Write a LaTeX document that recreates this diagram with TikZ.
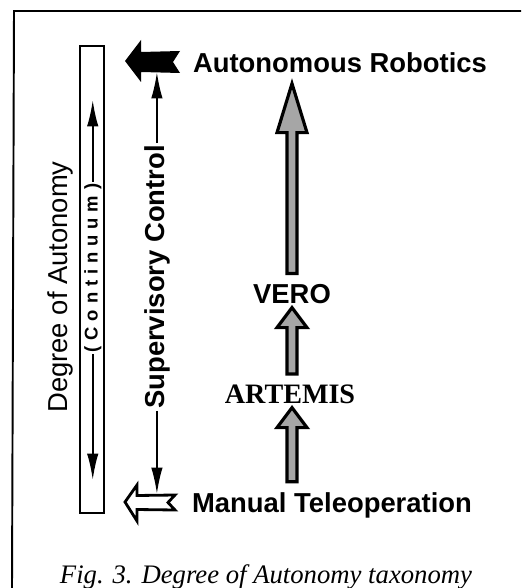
\documentclass[tikz,border=0pt]{standalone}
\usepackage{fontspec}
\setmainfont{Liberation Serif}
\setsansfont{Liberation Sans}
\usetikzlibrary{arrows.meta,calc}

\tikzset{
  tag/.style={font=\sffamily\bfseries\fontsize{15.6}{18}\selectfont, inner sep=1pt},
  stagename/.style={tag, inner sep=0pt},
  guide/.style={line width=1.1pt, -{Latex[length=15pt,width=6.5pt]}},
  stagefill/.style={draw, line width=1.8pt, fill=black!35, line join=miter}
}

% grey block arrow between two stages: lower node, upper node, head length, gap at the tip
\newcommand{\stagearrow}[4]{%
  \path[stagefill] ($(spine |- #1)+(-5,-10)$) -- ($(spine |- #2)+(-5,#3+#4)$)
    -- ($(spine |- #2)+(-15,#3+#4)$) -- ($(spine |- #2)+(0,#4)$)
    -- ($(spine |- #2)+(15,#3+#4)$) -- ($(spine |- #2)+(5,#3+#4)$)
    -- ($(spine |- #1)+(5,-10)$) -- cycle;}

\begin{document}
\begin{tikzpicture}[x=0.02cm, y=-0.02cm]
    \useasboundingbox (0,0) rectangle (521,588);

    % Frame (top and left edge only)
    \draw[line width=1.1pt] (521,11) -- (14,11) -- (12,588);

    % Continuum bar
    \draw[line width=1.2pt] (80,46) rectangle (104,513);
    \node[rotate=90, anchor=base, inner sep=1pt, font=\sffamily\bfseries\fontsize{10.5}{12}\selectfont\addfontfeature{LetterSpace=32}] (cont) at (97.5,268) {(Continuum)};
    \coordinate (contTop) at (92,100);
    \coordinate (contBot) at (92,480);
    \draw[guide] (cont.east) -- (cont.east |- contTop);
    \draw[guide] (cont.west) -- (cont.west |- contBot);
    \node[tag, font=\sffamily\fontsize{15.6}{18}\selectfont, rotate=90, anchor=base] (dgr) at (67,287) {Degree of Autonomy};

    % Ends of the scale
    \fill (125,61) -- (141,40) -- (141,52) -- (180,51) -- (173,62) -- (180,73) -- (141,72) -- (141,82) -- cycle;
    \draw[line width=1.6pt, fill=white, line join=miter] (125,502) -- (137,485) -- (137,495.5) -- (175,495) -- (168,502.5) -- (175,510) -- (137,509.5) -- (137,521) -- cycle;
    \coordinate (robArr) at (157,72);
    \coordinate (manArr) at (156,494);
    \node[stagename, anchor=base] (auto) at (340,72) {Autonomous Robotics};
    \node[stagename, anchor=base] (manual) at (332,512) {Manual Teleoperation};

    % Supervisory control spans the middle
    \node[tag, rotate=90, anchor=base] (sup) at (164,277) {Supervisory Control};
    \draw[guide] (sup.east) -- (sup.east |- robArr);
    \draw[guide] (sup.west) -- (sup.west |- manArr);

    % Systems along the scale
    \coordinate (spine) at (292,0);
    \node[stagename, anchor=base] (vero) at (292,303) {VERO};
    \node[stagename, font=\rmfamily\bfseries\fontsize{16}{19}\selectfont, anchor=base] (artemis) at (290,403) {ARTEMIS};
    \stagearrow{vero.north}{auto.south}{49}{11}
    \stagearrow{artemis.north}{vero.south}{20}{4}
    \stagearrow{manual.north}{artemis.south}{20}{4}

    % Caption
    \node[anchor=base, font=\rmfamily\itshape\fontsize{15.2}{18}\selectfont] (caption) at (266,583) {Fig. 3. Degree of Autonomy taxonomy};
\end{tikzpicture}
\end{document}
